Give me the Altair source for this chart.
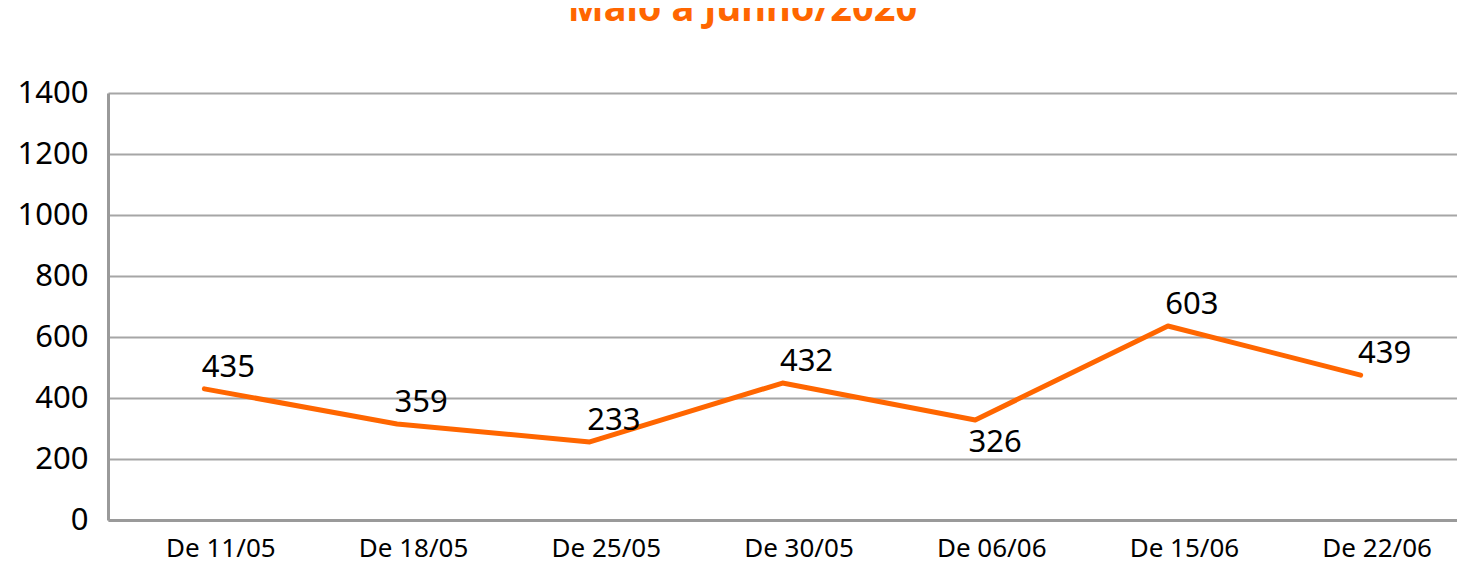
import altair as alt
import pandas as pd

categories = ["De 11/05", "De 18/05", "De 25/05", "De 30/05", "De 06/06", "De 15/06", "De 22/06"]
line_values = [430, 315, 256, 449, 328, 636, 475]
label_values = [435, 359, 233, 432, 326, 603, 439]
y_ticks = [0, 200, 400, 600, 800, 1000, 1200, 1400]

df = pd.DataFrame({"periodo": categories, "valor": line_values, "rotulo": label_values})

ORANGE = "#FF6600"
FONT = "Noto Sans"
W, H = 1349, 427

x_enc = alt.X(
    "periodo:N",
    sort=categories,
    title=None,
    scale=alt.Scale(type="point", padding=0.5),
    axis=alt.Axis(
        labelAngle=0,
        labelFont=FONT,
        labelFontSize=26,
        labelColor="#000000",
        labelPadding=15,
        labelOffset=16,
        ticks=False,
        domainColor="#9A9A9A",
        domainWidth=3,
        grid=False,
    ),
)
y_enc = alt.Y(
    "valor:Q",
    title=None,
    scale=alt.Scale(domain=[0, 1400], nice=False),
    axis=alt.Axis(
        values=y_ticks,
        format="d",
        labelFont=FONT,
        labelFontSize=31,
        labelColor="#000000",
        labelPadding=20,
        ticks=False,
        domainColor="#9A9A9A",
        domainWidth=3,
        gridColor="#A6A6A6",
        gridWidth=2,
    ),
)

base = alt.Chart(df)

line = base.mark_line(
    color=ORANGE, strokeWidth=5, strokeCap="round", strokeJoin="round"
).encode(x=x_enc, y=y_enc)

labels_above = base.transform_filter(
    "datum.periodo != 'De 06/06'"
).mark_text(
    font=FONT, fontSize=31, color="#000000", align="center", baseline="middle", dx=24, dy=-21
).encode(x=x_enc, y=y_enc, text="rotulo:Q")

labels_below = base.transform_filter(
    "datum.periodo == 'De 06/06'"
).mark_text(
    font=FONT, fontSize=31, color="#000000", align="center", baseline="middle", dx=20, dy=23
).encode(x=x_enc, y=y_enc, text="rotulo:Q")

chart = (
    alt.layer(line, labels_above, labels_below)
    .properties(
        width=W,
        height=H,
        title=alt.TitleParams(
            "Maio a Junho/2020",
            color=ORANGE,
            font=FONT,
            fontSize=38,
            fontWeight="bold",
            anchor="middle",
            frame="group",
            baseline="alphabetic",
            offset=18,
            dx=-40,
        ),
        autosize=alt.AutoSizeParams(type="none"),
        padding={"left": 100, "top": 85, "right": 0, "bottom": 47},
        background="#FFFFFF",
    )
    .configure_view(stroke=None)
)

chart.save("out.html", embed_options={"renderer": "svg", "actions": False})
